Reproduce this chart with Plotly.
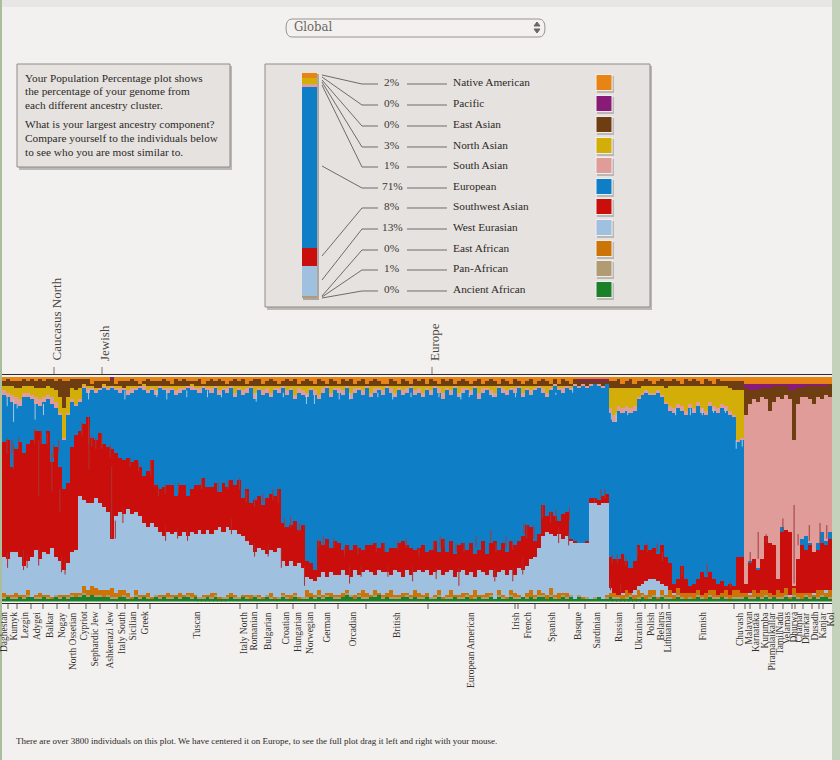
"""
Population Percentage plot: one stacked bar per group of individuals, plus the personal legend panel
"""
import numpy as np
import plotly.graph_objects as go

W, H = 840, 760
SERIF = "Liberation Serif"

# top of each main band, % from the bottom of the plot
west_eurasian_top = [
    20,19,22,22,20,16,18,20,23,19,22,21,24,20,18,14,
    17,22,23,47,45,44,44,46,44,42,40,28,38,40,39,41,
    39,40,38,35,33,35,33,31,29,31,30,31,29,31,29,31,
    30,32,30,32,30,32,33,31,33,32,32,30,29,27,25,22,
    24,23,21,23,22,24,18,16,18,16,17,15,11,10,9,11,
    13,11,13,12,12,14,12,11,14,12,13,14,13,12,14,13,
    13,12,14,13,11,14,12,13,14,13,14,12,13,14,12,13,
    14,11,13,14,12,13,11,14,13,12,14,11,13,14,12,14,
    12,15,14,16,19,20,24,29,31,30,29,30,28,29,27,26,
    26,26,26,44,44,43,44,44,6,4,3,4,5,4,5,7,
    8,9,10,10,9,8,7,5,4,3,3,2,3,2,3,3,
    2,3,2,3,2,3,2,3,4,3,3,4,3,4,5,3,
    4,3,3,4,3,3,4,3,3,4,3,4,3,4,5,4,
]
southwest_top = [
    71,72,60,68,71,66,70,72,76,76,70,76,62,69,60,50,
    53,69,74,76,79,82,73,72,75,70,69,68,66,64,63,64,
    62,63,60,56,58,63,52,50,51,52,52,47,52,52,47,50,
    52,52,55,51,51,53,49,53,51,54,52,54,46,50,44,45,
    47,43,46,48,47,50,35,33,34,36,32,34,18,17,14,27,
    25,28,24,27,26,23,25,23,25,24,23,25,25,26,24,26,
    22,24,24,26,27,25,24,23,24,25,22,23,27,22,28,22,
    27,21,25,26,23,26,21,23,27,21,26,27,23,26,22,27,
    25,27,29,34,33,27,30,43,38,40,38,36,39,40,28,27,
    26,26,27,46,46,45,47,48,20,19,19,21,18,15,18,25,
    23,25,23,24,21,25,20,17,8,10,16,10,7,8,10,13,
    11,13,10,8,9,7,8,7,20,20,8,17,19,14,19,29,
    26,25,10,31,32,31,7,19,25,23,25,22,23,26,25,28,
]
european_top = [
    92,91,89,88,87,91,91,90,88,87,89,90,88,86,83,72,
    83,89,87,89,95,93,94,93,94,95,94,95,94,93,94,92,
    93,94,95,94,93,94,92,95,94,93,94,92,93,94,95,94,
    94,93,95,94,93,95,92,94,93,95,91,94,92,93,95,90,
    94,92,93,91,94,93,95,92,94,90,93,92,91,94,92,90,
    93,95,91,94,93,92,95,90,93,94,92,95,91,93,94,92,
    95,93,91,94,92,93,95,92,93,91,94,92,95,93,90,94,
    92,95,91,93,94,92,95,90,93,94,92,91,95,93,92,94,
    93,95,91,94,92,94,95,93,91,94,96,94,93,95,94,96,
    95,96,95,96,97,96,95,97,84,80,85,84,85,84,85,90,
    92,93,92,92,93,91,88,85,84,86,85,83,86,84,87,84,
    83,87,85,84,86,85,83,82,71,72,8,18,19,15,19,29,
    26,25,10,33,32,31,7,19,28,29,26,22,26,31,27,31,
]

# thin bands above the European one, % share
south_asian = [
    2,2,3,3,3,2,2,2,3,3,2,2,3,3,1,1,
    1,1,1,1,1,2,1,1,1,1,1,1,1,2,1,2,
    2,1,1,2,1,1,2,1,1,2,1,2,2,1,1,2,
    1,2,1,1,2,1,2,1,2,1,2,1,2,2,1,3,
    1,2,2,2,1,2,1,2,1,2,2,2,2,1,2,2,
    2,1,2,1,2,2,1,3,2,1,2,1,2,2,1,2,
    1,2,2,1,2,2,1,2,2,2,1,2,1,2,3,1,
    2,1,2,2,1,2,1,3,2,1,2,2,1,2,2,1,
    2,1,2,1,2,1,1,2,2,1,1,1,2,1,1,1,
    1,1,1,1,0,1,1,0,2,3,2,2,2,2,2,1,
    1,1,1,1,1,1,1,2,2,2,2,2,2,2,2,2,
    2,2,2,2,2,2,2,1,1,1,75,70,71,74,72,61,
    59,64,81,57,60,59,65,69,63,62,64,66,65,59,65,60,
]
north_asian = [
    2,3,4,4,5,3,3,4,4,5,4,4,4,5,7,13,
    7,5,6,5,1,1,1,1,0,1,1,0,1,1,0,2,
    1,1,0,1,2,1,2,0,1,1,1,2,1,1,0,1,
    1,1,0,1,1,0,2,1,1,0,3,1,2,1,0,3,
    1,2,1,3,1,1,0,2,1,4,1,2,3,1,2,4,
    1,0,3,1,1,2,0,3,1,1,2,0,3,1,1,2,
    0,1,3,1,2,1,0,2,1,3,1,2,0,1,3,1,
    2,0,3,1,1,2,0,3,1,1,2,3,0,1,2,1,
    1,0,3,1,2,1,0,1,3,1,0,1,1,0,1,0,
    0,0,0,0,0,0,0,0,9,12,8,9,8,9,8,4,
    3,2,3,3,2,4,6,9,10,8,9,11,8,10,7,10,
    11,7,9,10,8,9,10,11,22,21,0,0,0,0,0,0,
    0,0,0,0,0,0,0,0,0,0,0,0,0,0,0,0,
]
east_asian = [
    2,3,2,3,3,3,2,3,3,4,3,3,4,4,8,12,
    7,4,5,4,2,3,1,3,3,1,2,3,1,2,3,2,
    3,2,1,1,3,2,2,2,3,2,1,3,2,3,2,1,
    2,3,1,2,3,2,3,2,1,2,3,2,3,1,2,3,
    3,1,2,3,2,1,2,3,2,3,1,2,3,2,1,3,
    2,1,3,2,1,3,2,3,1,2,3,1,2,3,2,1,
    1,3,2,1,3,2,1,3,2,3,1,3,2,1,3,2,
    3,1,2,3,2,1,2,3,1,2,3,2,1,3,2,1,
    3,2,1,2,3,1,2,3,2,1,2,1,3,2,1,2,
    2,1,2,1,1,1,2,1,3,3,4,2,3,4,2,3,
    2,3,2,1,2,3,3,2,3,2,1,3,2,3,2,1,
    3,2,1,3,2,2,3,4,4,4,12,6,4,5,4,5,
    10,7,5,6,4,4,22,7,4,5,6,8,5,6,4,6,
]
pacific = [
    0,0,0,0,0,0,0,0,0,0,0,0,0,0,0,0,
    0,0,0,0,0,0,0,0,0,0,0,1,0,0,0,0,
    0,0,0,0,0,0,0,0,0,0,0,0,0,0,0,0,
    0,0,0,0,0,0,0,0,0,0,0,0,0,0,0,0,
    0,0,0,0,0,0,0,0,0,0,0,0,0,0,0,0,
    0,0,0,0,0,0,0,0,0,0,0,0,0,0,0,0,
    0,0,0,0,0,0,0,0,0,0,0,0,0,0,0,0,
    0,0,0,0,0,0,0,0,0,0,0,0,0,0,0,0,
    0,0,0,0,0,0,0,0,0,0,0,0,0,0,0,0,
    1,1,1,1,1,1,1,1,0,0,0,0,0,0,0,0,
    0,0,0,0,0,0,0,0,0,0,0,0,0,0,0,0,
    0,0,0,0,0,0,0,0,0,0,2,3,3,3,2,2,
    2,1,1,1,1,3,3,2,2,1,1,1,1,1,1,0,
]

# fringe along the bottom, % share
ancient_african = [
    1,2,1,1,2,1,2,2,1,1,2,1,1,2,1,2,
    1,2,2,2,3,2,3,2,2,2,2,1,1,2,2,1,
    1,2,1,2,1,1,2,1,2,1,1,2,1,2,2,1,
    2,1,1,2,1,2,1,1,1,2,1,1,2,1,1,2,
    1,1,2,1,1,1,2,1,1,2,1,1,1,2,1,2,
    1,2,2,1,1,2,3,2,1,2,1,1,2,2,3,1,
    2,1,1,1,2,2,1,2,1,1,2,1,1,2,1,1,
    1,2,1,1,2,1,1,2,1,1,2,1,2,1,1,2,
    1,1,2,1,2,1,2,2,1,2,1,1,2,1,2,1,
    2,1,1,1,1,2,1,1,2,1,1,1,1,2,1,1,
    2,1,1,2,1,2,1,1,1,2,1,1,1,1,2,1,
    1,2,1,1,2,1,1,1,1,1,2,1,1,2,1,2,
    1,2,1,1,2,1,2,1,1,2,1,2,1,2,2,1,
]
pan_african = [
    1,0,1,1,0,1,1,0,1,1,0,1,0,1,1,0,
    1,1,0,1,1,1,0,1,1,0,1,1,1,0,1,1,
    0,1,1,0,1,0,1,1,0,1,1,0,1,0,1,1,
    0,1,1,0,1,1,0,1,1,0,1,1,0,1,0,1,
    1,0,1,1,0,1,1,1,0,1,0,1,1,0,1,1,
    1,1,0,1,1,0,1,1,0,1,1,1,0,1,0,1,
    0,1,1,1,0,1,1,0,1,1,0,1,1,1,0,1,
    1,0,1,1,1,0,1,0,1,1,1,0,1,1,0,1,
    1,1,0,1,0,1,1,1,0,1,1,0,1,1,1,0,
    1,0,1,0,1,0,0,1,0,1,1,0,1,1,0,1,
    1,0,1,1,0,1,1,1,0,1,1,0,1,0,1,1,
    0,1,1,1,0,1,0,1,1,1,0,1,1,0,1,1,
    1,0,1,1,1,0,1,1,0,1,1,0,1,1,0,1,
]
east_african = [
    2,1,1,2,1,1,2,0,1,2,1,1,1,0,1,1,
    1,1,2,1,3,2,4,3,2,3,2,4,2,3,2,2,
    1,2,1,1,2,1,0,1,1,2,1,1,2,1,1,2,
    1,0,1,1,2,1,1,0,1,2,1,0,1,1,2,0,
    1,1,0,2,1,0,1,1,2,1,1,0,3,2,1,2,
    1,1,2,1,1,2,1,0,2,1,3,2,1,2,1,1,
    2,3,1,1,2,1,1,3,2,1,2,0,1,2,1,1,
    3,1,1,2,1,2,3,1,1,2,1,0,2,1,1,2,
    2,1,0,2,3,1,2,1,2,3,1,3,1,2,0,0,
    0,1,0,0,0,0,0,1,2,2,1,2,3,1,2,3,
    1,2,3,2,1,2,1,3,2,3,2,3,2,3,2,1,
    3,2,3,1,2,3,2,3,3,2,2,1,3,2,3,2,
    2,1,3,2,3,1,3,2,3,1,2,1,3,2,2,3,
]

# single individuals that stick out of their group: column, high %, low %
red_spike_col = [0.75, 2, 3.7, 7.6, 9.3, 10.8, 12.4, 13.7, 19.5, 21.2, 22, 23, 24.5, 26.6, 31.6, 33.7, 36.8, 38.7,
                 40.4, 43.7, 49.5, 53.7, 56.2, 59, 60.7, 62.8, 64.9, 67.4, 68.7, 70.3, 71.8, 74, 78.8, 80, 82.7,
                 85.3, 88.7, 93.3, 95.3, 98.7, 100.8, 104, 107.7, 109.3, 110.3, 113.3, 115.3, 118.3, 122, 123.3,
                 125.8, 127.4, 130.3, 131, 132.8, 135, 137, 138.3, 141.7, 148, 149.6, 150.6, 152.4, 153.7, 155.8,
                 158.7, 161.2, 163.7, 165, 169.9, 176.2, 182, 187, 189, 191, 195.2, 198, 199, 201.8, 204.5, 206.2,
                 2.4, 8.7, 12, 14, 21.3, 27]
red_spike_high = [73, 72, 73, 77, 76, 75, 70, 72, 80, 82, 74, 73, 75, 70, 64, 62, 63, 51,
                  52, 53, 55, 53, 54, 55, 49, 46, 48, 50, 50, 37, 38, 35, 28, 29, 28,
                  24, 25, 26, 26, 27, 28, 24, 27, 29, 28, 26, 26, 29, 32, 26,
                  29, 27, 35, 34, 34, 43, 40, 41, 42, 46, 50, 50, 21, 21, 20,
                  24, 26, 26, 22, 16, 17, 9, 22, 31, 30, 37, 43, 30, 34, 35, 34,
                  70, 72, 66, 50, 78, 60]
red_spike_low = [66, 66, 68, 70, 70, 70, 64, 66, 74, 70, 69, 68, 68, 64, 60, 58, 56, 47,
                 48, 48, 50, 49, 50, 50, 44, 42, 44, 45, 44, 33, 33, 31, 24, 25, 24,
                 20, 21, 22, 22, 23, 24, 20, 23, 24, 24, 22, 22, 24, 26, 22,
                 24, 23, 30, 28, 28, 37, 35, 36, 36, 44, 46, 46, 17, 17, 16,
                 20, 22, 22, 18, 11, 12, 6, 17, 19, 26, 31, 8, 25, 27, 25, 28,
                 59, 47, 49, 40, 59, 28]
low_red_col = [0.9, 4.9, 5.8, 8.7, 14.4, 15.3, 27.9, 29.8, 40.5, 43.5, 46, 57, 62.8, 66.2, 69.5, 75.3, 86.6, 89.5,
               96.2, 102.4, 108.3, 114, 123, 127.5, 130, 139, 141.5, 152, 154.5]
low_red_high = [22, 23, 21, 24, 20, 19, 36, 42, 34, 33, 32, 37, 26, 26, 24, 16, 16, 16,
                16, 16, 15, 15, 15, 15, 20, 33, 31, 9, 8]
low_red_low = [15, 14, 15, 16, 13, 12, 28, 35, 27, 28, 27, 30, 20, 20, 15, 7, 8, 11,
               11, 9, 10, 7, 9, 9, 12, 26, 25, 5, 4]
pale_spike_col = [0.8, 2.4, 3.3, 7.8, 9.9, 21.2, 30.3, 38.3, 40.8, 45.8, 51, 54.5, 63.2, 70, 75.8, 77.8, 84, 86.6,
                  93.7, 97.4, 102, 109, 114.5, 116.6, 122.4, 128.2, 138.3, 142.5, 152.2, 153.4, 156.3, 168.3, 172,
                  175, 177.8, 180.8, 183.5, 185]
pale_spike_high = [91, 90, 88, 88, 88, 94, 94, 94, 94, 94, 94, 93, 93, 93, 92, 92, 93, 93,
                   93, 93, 93, 93, 93, 93, 93, 93, 93, 95, 84, 84, 85, 86, 86,
                   86, 86, 86, 72, 72]
pale_spike_low = [87, 80, 86, 81, 83, 90, 90, 91, 90, 91, 91, 91, 89, 91, 88, 88, 90, 90,
                  91, 90, 91, 91, 90, 91, 91, 91, 92, 93, 81, 80, 83, 83, 83,
                  83, 84, 84, 68, 69]

# personal legend, top to bottom
cluster_names = ["Native American", "Pacific", "East Asian", "North Asian", "South Asian", "European",
                 "Southwest Asian", "West Eurasian", "East African", "Pan-African", "Ancient African"]
cluster_pct = [2, 0, 0, 3, 1, 71, 8, 13, 0, 1, 0]
cluster_colors = ["#E88414", "#8A1A78", "#6F3D12", "#D3AE08", "#DF9C98", "#0E7FC6",
                  "#C90E0B", "#9FC0DF", "#CC7408", "#B19B72", "#1A8029"]

# group labels under and above the plot
bottom_labels = ["Daghestan", "Kumyk", "Lezgin", "Adygei", "Balkar", "Nogay", "North Ossetian", "Cypriot",
                 "Sephardic Jew", "Ashkenazi Jew", "Italy South", "Sicilian", "Greek", "Tuscan", "Italy North",
                 "Romanian", "Bulgarian", "Croatian", "Hungarian", "Norwegian", "German", "Orcadian", "British",
                 "European American", "Irish", "French", "Spanish", "Basque", "Sardinian", "Russian", "Ukrainian",
                 "Polish", "Belarus", "Lithuanian", "Finnish", "Chuvash", "Malayan", "Karnataka", "Kurumba",
                 "Piramalaikallar", "TamilNadu", "Velamas", "Dhurwa", "Chamar", "Dharkar", "Dusadh", "Kanjar", "Kol"]
bottom_label_x = [4, 13, 24, 37, 50, 62, 73, 83, 94, 109, 122, 132, 144, 196, 244, 253, 268, 285, 298, 310, 326,
                  352, 397, 471, 516, 527, 552, 578, 596, 619, 639, 651, 660, 667, 702, 740, 748, 756, 764, 771,
                  779, 787, 793, 798, 806, 814, 822, 830]
bottom_tick_x = [8, 17, 31, 43, 57, 69, 86, 100, 117, 125, 138, 150, 240, 257, 277, 293, 315, 338, 366, 428, 515,
                 518, 535, 569, 585, 606, 634, 645, 656, 662, 669, 734, 745, 750, 760, 766, 773, 783, 792, 795,
                 803, 812, 819, 823]
region_labels = ["Caucasus North", "Jewish", "Europe"]
region_x = [54, 102, 432]

INK = "#3b3734"
PANEL = "#E6E2DF"
EDGE = "#8E8A86"


def px(x):
    return x / W


def py(y):
    return 1 - y / H


shapes, notes = [], []


def rect(x0, y0, x1, y1, fill, line=None, width=1):
    shapes.append(dict(type="rect", xref="paper", yref="paper", x0=px(x0), x1=px(x1), y0=py(y1), y1=py(y0),
                       fillcolor=fill, line=dict(color=line or fill, width=width if line else 0), layer="below"))


def polyline(points, color="#6f6b68", width=1, fill=None, layer="below"):
    d = "M" + " L".join(f"{px(x):.5f},{py(y):.5f}" for x, y in points)
    if fill:
        d += " Z"
    shapes.append(dict(type="path", xref="paper", yref="paper", path=d, fillcolor=fill,
                       line=dict(color=color, width=width), layer=layer))


def text(x, y, s, size=11, color=INK, xanchor="left", yanchor="middle", angle=0, family=SERIF):
    notes.append(dict(x=px(x), y=py(y), xref="paper", yref="paper", text=s, showarrow=False, xanchor=xanchor,
                      yanchor=yanchor, textangle=angle, align="left", borderpad=0,
                      font=dict(family=family, size=size, color=color)))


def panel(x0, y0, x1, y1):
    rect(x0 + 2, y0 + 2, x1 + 2, y1 + 3, "rgba(60,55,50,0.3)")
    rect(x0, y0, x1, y1, PANEL, EDGE)


def spike_trace(cols, highs, lows, color):
    # one thin vertical line per individual
    xs, ys = [], []
    for c, hi, lo in zip(cols, highs, lows):
        xs += [c, c, None]
        ys += [lo, hi, None]
    return go.Scatter(x=xs, y=ys, mode="lines", line=dict(color=color, width=1), hoverinfo="skip",
                      showlegend=False, xaxis="x", yaxis="y")


# page furniture
rect(2, 0, W, 7, "#E8E6E4")
rect(0, 0, 2, H, "#A9BE9D")
rect(832, 0, W, H, "#C4D2BC")

# select box with rounded ends
sx0, sx1, sy0, sy1 = px(286), px(545), py(19), py(37)
rx, rm = px(6), py(28)
shapes.append(dict(type="path", xref="paper", yref="paper", layer="below", fillcolor="#F3F1EF",
                   line=dict(color="#98948F", width=1),
                   path=f"M{sx0 + rx},{sy0} L{sx1 - rx},{sy0} Q{sx1},{sy0} {sx1},{rm} Q{sx1},{sy1} {sx1 - rx},{sy1} "
                        f"L{sx0 + rx},{sy1} Q{sx0},{sy1} {sx0},{rm} Q{sx0},{sy0} {sx0 + rx},{sy0} Z"))
text(293, 27, "Global", size=13, color="#6a6561", family="DejaVu Serif Condensed, Liberation Serif")
polyline([(534, 26), (540, 26), (537, 22)], color="#6a6561", fill="#6a6561")
polyline([(534, 29), (540, 29), (537, 33)], color="#6a6561", fill="#6a6561")

# info box
panel(17, 64, 230, 167)
info_lines = [(78, "Your Population Percentage plot shows"), (91.5, "the percentage of your genome from"),
              (105, "each different ancestry cluster."), (124, "What is your largest ancestry component?"),
              (138, "Compare yourself to the individuals below"), (151.5, "to see who you are most similar to.")]
for y, line in info_lines:
    text(24, y, line, size=11.3, color="#2c2927")

# legend panel
panel(265, 64, 650, 307)
rect(303, 74, 319, 300, "rgba(60,55,50,0.35)")
row_y = [82, 103, 124, 145, 165, 186, 206, 227, 248, 268, 289]
leader_from = [75, 77, 80, 82, 85, 166, 256, 280, 296, 297, 298]
for i, name in enumerate(cluster_names):
    polyline([(322, leader_from[i]), (362, row_y[i] + 2), (378, row_y[i] + 2)])
    polyline([(407, row_y[i] + 2), (447, row_y[i] + 2)])
    text(392, row_y[i], f"{cluster_pct[i]}%", size=11.3, xanchor="center")
    text(452, row_y[i], name, size=11.3, color="#2c2927")
    rect(597, row_y[i] - 6, 614, row_y[i] + 11, "rgba(60,55,50,0.25)")
    rect(595.5, row_y[i] - 8, 612.5, row_y[i] + 9, "#F0EEEC")
    rect(596.5, row_y[i] - 7, 611.5, row_y[i] + 8, cluster_colors[i])

# plot frame, ticks and group labels
polyline([(2, 374.5), (832, 374.5)], color="#2f2b29", width=1.2)
polyline([(2, 603.5), (832, 603.5)], color="#2f2b29", width=1.2)
for i, label in enumerate(region_labels):
    polyline([(region_x[i], 367), (region_x[i], 374)], color="#77736f")
    text(region_x[i] + 2, 362, label, size=13, xanchor="center", yanchor="bottom", angle=-90, color="#4a4643")
for x in bottom_tick_x:
    polyline([(x, 604), (x, 609)], color="#7a7672", width=1.2)
for label, x in zip(bottom_labels, bottom_label_x):
    text(x, 611, label, size=9.5, xanchor="center", yanchor="top", angle=-90, color="#33302d")

text(15, 741, "There are over 3800 individuals on this plot. We have centered it on Europe, "
              "to see the full plot drag it left and right with your mouse.", size=9, color="#2a2725")

# stack the columns: the typed tops and shares become band heights
columns = np.arange(len(european_top))
fringe = np.array(ancient_african) + np.array(pan_african) + np.array(east_african)
we_level = np.maximum(np.array(west_eurasian_top), fringe)
sw_level = np.maximum(np.array(southwest_top), we_level)
eu_level = np.maximum(np.array(european_top), sw_level)
top_used = np.array(south_asian) + np.array(north_asian) + np.array(east_asian) + np.array(pacific)
native = np.maximum(100 - eu_level - top_used, 0)

bands = [
    ("Ancient African", ancient_african, "#1A8029"),
    ("Pan-African", pan_african, "#B19B72"),
    ("East African", east_african, "#CC7408"),
    ("West Eurasian", we_level - fringe, "#9FC0DF"),
    ("Southwest Asian", sw_level - we_level, "#C90E0B"),
    ("European", eu_level - sw_level, "#0E7FC6"),
    ("South Asian", south_asian, "#DF9C98"),
    ("North Asian", north_asian, "#D3AE08"),
    ("East Asian", east_asian, "#6F3D12"),
    ("Pacific", pacific, "#8A1A78"),
    ("Native American", native, "#E88414"),
]

fig = go.Figure()
for name, values, color in bands:
    fig.add_trace(go.Bar(x=columns, y=values, name=name, width=1.02, marker=dict(color=color, line=dict(width=0)),
                         showlegend=False, xaxis="x", yaxis="y"))

fig.add_trace(spike_trace(red_spike_col, red_spike_high, red_spike_low, "#A13A3E"))
fig.add_trace(spike_trace(low_red_col, low_red_high, low_red_low, "#B5282A"))
fig.add_trace(spike_trace(pale_spike_col, pale_spike_high, pale_spike_low, "#A8C8E0"))

# personal ancestry bar in the legend panel
for i in range(len(cluster_names) - 1, -1, -1):
    fig.add_trace(go.Bar(x=[0], y=[cluster_pct[i]], name=cluster_names[i], width=1,
                         marker=dict(color=cluster_colors[i], line=dict(width=0)),
                         showlegend=False, xaxis="x2", yaxis="y2"))

hidden = dict(visible=False, fixedrange=True)
fig.update_layout(
    width=W, height=H, autosize=False,
    margin=dict(l=0, r=0, t=0, b=0),
    paper_bgcolor="#F3F1EF", plot_bgcolor="rgba(0,0,0,0)",
    barmode="stack", bargap=0,
    showlegend=False,
    shapes=shapes, annotations=notes,
    xaxis=dict(domain=[px(2), px(832)], range=[-0.5, len(columns) - 0.5], anchor="y", **hidden),
    yaxis=dict(domain=[py(601.5), py(377)], range=[0, 100], anchor="x", **hidden),
    xaxis2=dict(domain=[px(302), px(317)], range=[-0.5, 0.5], anchor="y2", **hidden),
    yaxis2=dict(domain=[py(298), py(73)], range=[0, sum(cluster_pct)], anchor="x2", **hidden),
)

fig.write_html("out.html", config=dict(displayModeBar=False),
               post_script="document.body.style.margin='0';")
